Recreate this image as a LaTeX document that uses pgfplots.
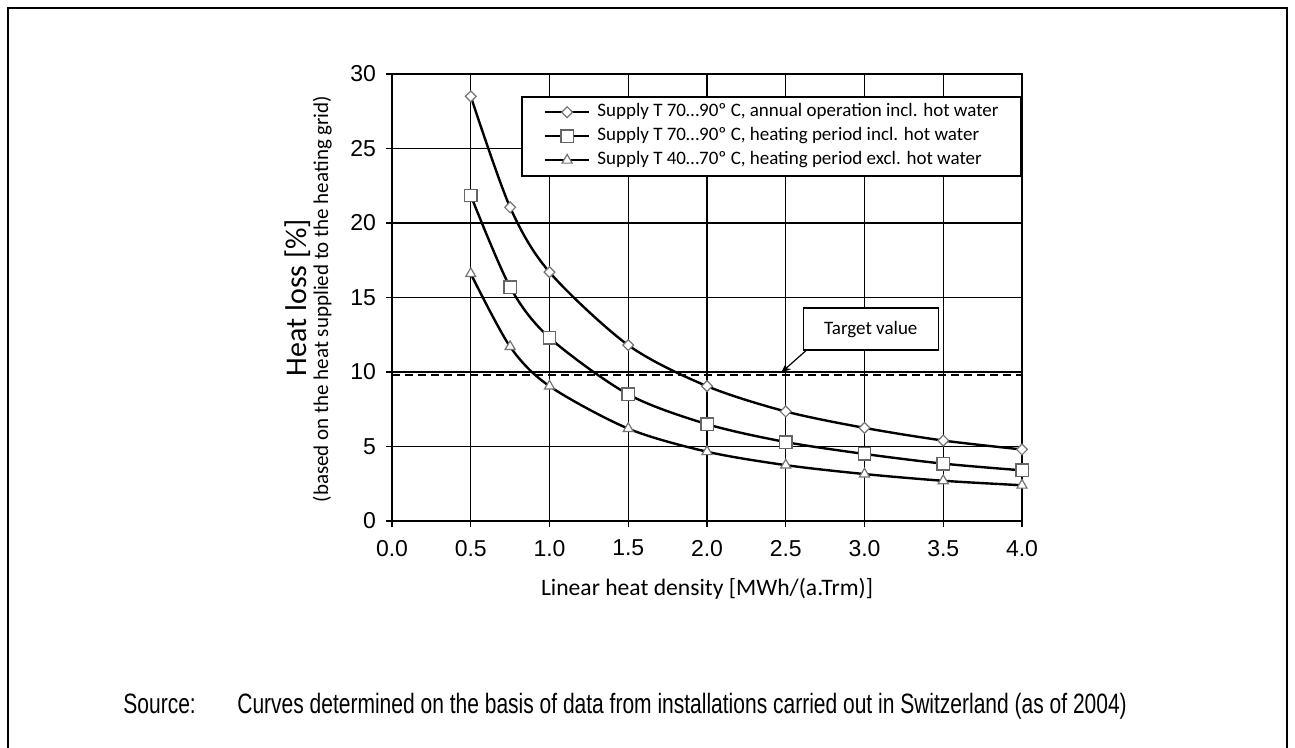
\documentclass[border=0pt]{standalone}
\usepackage{pgfplots}
\pgfplotsset{compat=1.18}
\usepackage{fontspec}
\setmainfont{Liberation Sans}
\newfontfamily\calib{Carlito}
\usetikzlibrary{arrows.meta}

\begin{document}
\begin{tikzpicture}[x=1pt,y=1pt]
\path[use as bounding box] (0,0) rectangle (647.5,-374);
\draw[line width=1pt] (4,-374) -- (4,-3.8) -- (643.5,-3.8) -- (643.5,-374);

\begin{axis}[
  at={(196pt,-260.5pt)}, anchor=origin,
  scale only axis, width=315pt, height=223.5pt,
  xmin=0, xmax=4, ymin=0, ymax=30,
  xtick={0,0.5,...,4}, ytick={0,5,...,30},
  /pgf/number format/assume math mode=true,
  tick label style={font=\fontsize{11.5}{13}\selectfont},
  xticklabel style={/pgf/number format/fixed, /pgf/number format/fixed zerofill,
    /pgf/number format/precision=1, yshift=-3pt},
  yticklabel style={xshift=-1.5pt},
  grid=major, major grid style={black, line width=0.6pt},
  axis line style={black, line width=0.8pt},
  tick style={black, line width=0.6pt},
  tick align=outside, major tick length=3pt,
  xtick pos=bottom, ytick pos=left,
  legend style={at={(rel axis cs:0.205,0.951)}, anchor=north west,
    draw=black, line width=0.8pt, inner xsep=11pt, inner ysep=3.5pt,
    font=\calib\fontsize{9.5}{11.5}\selectfont,
    nodes={inner sep=0pt, text height=6.5pt, text depth=2pt},
    row sep=3.5pt, column sep=3.5pt},
  legend cell align=left,
  legend image code/.code={\draw[#1,line width=1.2pt,mark repeat=2,mark phase=2] plot coordinates {(0pt,0pt)(11pt,0pt)(22pt,0pt)};},
]
\addplot[black, line width=1.2pt, smooth, mark=diamond*,
  mark options={solid, draw=black!55, fill=white, line width=0.6pt, xscale=1.33}, mark size=2.7pt]
  coordinates {(0.5,28.5)(0.75,21.05)(1,16.7)(1.5,11.8)(2,9.05)(2.5,7.35)(3,6.25)(3.5,5.4)(4,4.8)};
\addlegendentry{Supply T 70…90º C, annual operation incl. hot water}
\addplot[black, line width=1.2pt, smooth, mark=square*,
  mark options={solid, draw=black!60, fill=white, line width=0.7pt}, mark size=3.1pt]
  coordinates {(0.5,21.85)(0.75,15.7)(1,12.3)(1.5,8.5)(2,6.5)(2.5,5.3)(3,4.5)(3.5,3.85)(4,3.4)};
\addlegendentry{Supply T 70…90º C, heating period incl. hot water}
\addplot[black, line width=1.2pt, smooth, mark=triangle*,
  mark options={solid, draw=black!55, fill=white, line width=0.6pt}, mark size=2.9pt]
  coordinates {(0.5,16.6)(0.75,11.7)(1,9.05)(1.5,6.2)(2,4.65)(2.5,3.75)(3,3.15)(3.5,2.7)(4,2.4)};
\addlegendentry{Supply T 40…70º C, heating period excl. hot water}
\addplot[black, line width=1pt, dash pattern=on 4pt off 2.5pt, forget plot]
  coordinates {(0,9.8)(4,9.8)};
\draw[-{Stealth[length=5pt,width=4pt]}, line width=0.6pt] (axis cs:2.63,11.45) -- (axis cs:2.47,9.95);
\node[draw, line width=0.8pt, fill=white, minimum width=67.5pt, minimum height=21pt,
  inner sep=0pt, font=\calib\fontsize{9.5}{11.5}\selectfont] at (axis cs:3.04,12.88) {Target value};
\end{axis}

\node[rotate=90, anchor=base, font=\calib\fontsize{15}{18}\selectfont] at (153,-148.75) {Heat loss [\%]};
\node[rotate=90, anchor=base, font=\calib\fontsize{10.5}{12}\selectfont] at (164,-149.5) {(based on the heat supplied to the heating grid)};
\node[anchor=base, font=\calib\fontsize{11.8}{14}\selectfont] at (353.5,-297.5) {Linear heat density [MWh/(a.Trm)]};
\node[anchor=base west, inner sep=0pt, font=\fontsize{14}{16}\selectfont] at (61.5,-356.5) {\scalebox{0.75}[1]{Source:}};
\node[anchor=base west, inner sep=0pt, font=\fontsize{14}{16}\selectfont] at (118.5,-356.5) {\scalebox{0.75}[1]{Curves determined on the basis of data from installations carried out in Switzerland (as of 2004)}};
\end{tikzpicture}
\end{document}
